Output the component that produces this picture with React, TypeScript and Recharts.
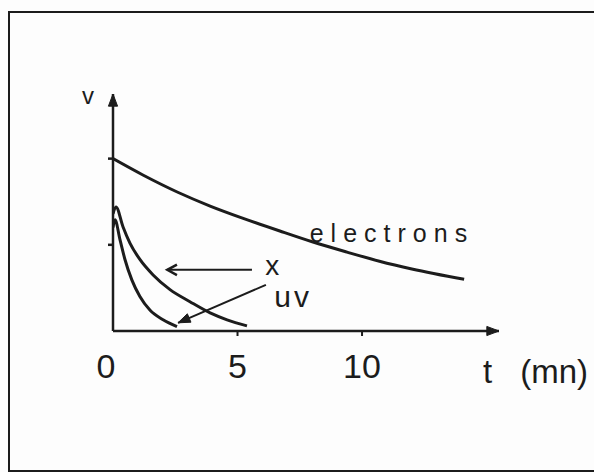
import { LineChart, Line, XAxis, YAxis, ReferenceLine, ReferenceDot } from 'recharts'

// potential v against time t (mn) after irradiation
const electronTimes = [0, 1.2, 2.6, 3.9, 5.2, 6.7, 8, 9.4, 10.7, 12, 14.1]
const electronValues = [2.0, 1.81, 1.61, 1.45, 1.31, 1.16, 1.035, 0.915, 0.81, 0.72, 0.6]

const xrayTimes = [0, 0.12, 0.4, 0.68, 1.08, 1.61, 2.29, 3.09, 3.9, 4.58, 5.38]
const xrayValues = [1.36, 1.44, 1.21, 1.02, 0.83, 0.65, 0.48, 0.34, 0.21, 0.13, 0.06]

const uvTimes = [0, 0.08, 0.28, 0.48, 0.76, 1.08, 1.49, 2.01, 2.57]
const uvValues = [1.2, 1.29, 1.06, 0.83, 0.59, 0.4, 0.24, 0.13, 0.05]

const timeTicks = [0, 5, 10]
const valueTicks = [1, 2]

const INK = '#1c1c1c'
const FONT = "'Liberation Sans', Arial, sans-serif"

const toPoints = (ts: number[], vs: number[]) => ts.map((t, i) => ({ t, v: vs[i] }))

const electrons = toPoints(electronTimes, electronValues)
const xray = toPoints(xrayTimes, xrayValues)
const uv = toPoints(uvTimes, uvValues)

function ArrowLine(props: any) {
  const { x1, y1, x2, y2, head, width } = props
  const a = Math.atan2(y2 - y1, x2 - x1)
  const len = head === 'open' ? 11 : 13
  const spread = head === 'open' ? 0.5 : 0.36
  const p1 = `${x2 - len * Math.cos(a - spread)},${y2 - len * Math.sin(a - spread)}`
  const p2 = `${x2 - len * Math.cos(a + spread)},${y2 - len * Math.sin(a + spread)}`
  return (
    <g>
      <line x1={x1} y1={y1} x2={x2} y2={y2} stroke={INK} strokeWidth={width} />
      {head === 'open' ? (
        <polyline points={`${p1} ${x2},${y2} ${p2}`} fill="none" stroke={INK} strokeWidth={2.5} />
      ) : (
        <polygon points={`${p1} ${x2},${y2} ${p2}`} fill={INK} stroke={INK} strokeWidth={1} />
      )}
    </g>
  )
}

function TimeTick({ x, y, payload }: any) {
  const v = payload.value
  return (
    <g>
      {v !== 0 && <line x1={x} y1={y} x2={x} y2={y + 5} stroke={INK} strokeWidth={2} />}
      <text x={x + (v === 0 ? -7 : 0)} y={y + 47} textAnchor="middle" fontFamily={FONT} fontSize={34} fill={INK}>
        {v}
      </text>
    </g>
  )
}

function ValueTick({ x, y }: any) {
  return <line x1={x - 5} y1={y} x2={x + 1} y2={y} stroke={INK} strokeWidth={2.5} />
}

// label renderer for the free-standing notes on the plot
const note = (text: string, size: number, spacing = 0) => (props: any) => {
  const { viewBox } = props
  return (
    <text
      x={viewBox.x + viewBox.width / 2}
      y={viewBox.y + viewBox.height / 2}
      textAnchor="middle"
      dominantBaseline="central"
      fontFamily={FONT}
      fontSize={size}
      letterSpacing={spacing}
      fill={INK}
    >
      {text}
    </text>
  )
}

const unitNote = (props: any) => {
  const { viewBox } = props
  return (
    <text x={viewBox.x} y={viewBox.y + 52} fontFamily={FONT} fontSize={33} fill={INK}>
      <tspan>t</tspan>
      <tspan dx={28}>(mn)</tspan>
    </text>
  )
}

export default function App() {
  return (
    <div style={{ position: 'absolute', left: 0, top: 0, width: 594, height: 472, background: '#fdfdfd', overflow: 'hidden' }}>
      <div
        style={{
          position: 'absolute',
          left: 8,
          top: 11,
          width: 800,
          height: 457,
          borderLeft: `2px solid ${INK}`,
          borderTop: `2px solid ${INK}`,
          borderBottom: `2px solid ${INK}`,
        }}
      />
      <LineChart width={594} height={472} margin={{ top: 94, right: 95, bottom: 111, left: 93 }}>
        <XAxis
          dataKey="t"
          type="number"
          domain={[0, 15.5]}
          ticks={timeTicks}
          allowDataOverflow
          axisLine={false}
          tickLine={false}
          tickSize={0}
          tickMargin={0}
          height={30}
          tick={<TimeTick />}
        />
        <YAxis
          type="number"
          domain={[0, 2.75]}
          ticks={valueTicks}
          allowDataOverflow
          axisLine={false}
          tickLine={false}
          tickSize={0}
          tickMargin={0}
          width={20}
          tick={<ValueTick />}
        />
        <Line data={electrons} dataKey="v" type="monotone" stroke={INK} strokeWidth={3} dot={false} isAnimationActive={false} />
        <Line data={xray} dataKey="v" type="monotone" stroke={INK} strokeWidth={3} dot={false} isAnimationActive={false} />
        <Line data={uv} dataKey="v" type="monotone" stroke={INK} strokeWidth={3} dot={false} isAnimationActive={false} />

        {/* axes with arrowheads */}
        <ReferenceLine
          segment={[{ x: 0, y: 0 }, { x: 15.5, y: 0 }]}
          ifOverflow="visible"
          shape={(p: any) => <ArrowLine {...p} head="filled" width={2.5} />}
        />
        <ReferenceLine
          segment={[{ x: 0, y: 0 }, { x: 0, y: 2.75 }]}
          ifOverflow="visible"
          shape={(p: any) => <ArrowLine {...p} head="filled" width={2.5} />}
        />

        {/* pointers from the curve names */}
        <ReferenceLine
          segment={[{ x: 5.58, y: 0.71 }, { x: 2.18, y: 0.71 }]}
          ifOverflow="visible"
          shape={(p: any) => <ArrowLine {...p} head="open" width={2} />}
        />
        <ReferenceLine
          segment={[{ x: 6.14, y: 0.535 }, { x: 2.61, y: 0.095 }]}
          ifOverflow="visible"
          shape={(p: any) => <ArrowLine {...p} head="filled" width={2} />}
        />

        <ReferenceDot x={11.2} y={1.14} r={0} ifOverflow="visible" label={{ content: note('electrons', 25, 7) }} />
        <ReferenceDot x={6.39} y={0.756} r={0} ifOverflow="visible" label={{ content: note('x', 28) }} />
        <ReferenceDot x={7.23} y={0.4} r={0} ifOverflow="visible" label={{ content: note('uv', 30, 3) }} />
        <ReferenceDot x={-1.0} y={2.73} r={0} ifOverflow="visible" label={{ content: note('v', 24) }} />
        <ReferenceDot x={14.86} y={0} r={0} ifOverflow="visible" label={{ content: unitNote }} />
      </LineChart>
    </div>
  )
}
